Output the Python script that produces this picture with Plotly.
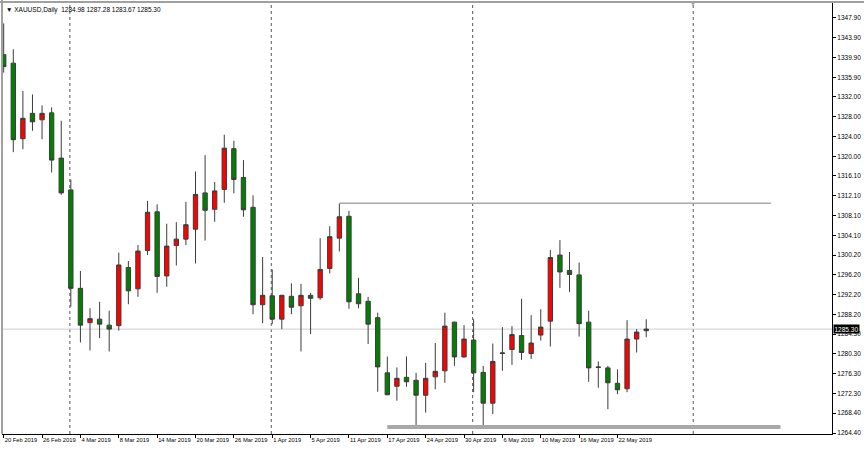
import plotly.graph_objects as go
import pandas as pd

# ---------------- data ----------------
dates = [
    "2019-02-20", "2019-02-21", "2019-02-22", "2019-02-25", "2019-02-26", "2019-02-27", "2019-02-28",
    "2019-03-01", "2019-03-04", "2019-03-05", "2019-03-06", "2019-03-07", "2019-03-08", "2019-03-11",
    "2019-03-12", "2019-03-13", "2019-03-14", "2019-03-15", "2019-03-18", "2019-03-19", "2019-03-20",
    "2019-03-21", "2019-03-22", "2019-03-25", "2019-03-26", "2019-03-27", "2019-03-28", "2019-03-29",
    "2019-04-01", "2019-04-02", "2019-04-03", "2019-04-04", "2019-04-05", "2019-04-08", "2019-04-09",
    "2019-04-10", "2019-04-11", "2019-04-12", "2019-04-15", "2019-04-16", "2019-04-17", "2019-04-18",
    "2019-04-22", "2019-04-23", "2019-04-24", "2019-04-25", "2019-04-26", "2019-04-29", "2019-04-30",
    "2019-05-01", "2019-05-02", "2019-05-03", "2019-05-06", "2019-05-07", "2019-05-08", "2019-05-09",
    "2019-05-10", "2019-05-13", "2019-05-14", "2019-05-15", "2019-05-16", "2019-05-17", "2019-05-20",
    "2019-05-21", "2019-05-22", "2019-05-23", "2019-05-24", "2019-05-27",
]
opens = [
    1340.5, 1338.8, 1323.6, 1328.7, 1327.4, 1328.8, 1319.7, 1313.3, 1293.5, 1286.6,
    1287.3, 1286.1, 1286.0, 1297.7, 1293.4, 1301.1, 1308.9, 1296.0, 1302.1, 1303.4,
    1305.4, 1312.7, 1309.4, 1313.4, 1321.6, 1315.8, 1309.8, 1290.2, 1292.0, 1287.3,
    1291.9, 1290.0, 1292.1, 1291.6, 1297.5, 1303.6, 1308.0, 1292.4, 1290.9, 1287.6,
    1276.5, 1273.8, 1275.6, 1275.0, 1272.0, 1275.7, 1276.9, 1286.7, 1279.7, 1283.1,
    1276.6, 1270.4, 1280.4, 1281.2, 1284.0, 1280.4, 1284.1, 1286.9, 1300.2, 1297.1,
    1296.2, 1286.7, 1277.7, 1277.5, 1274.4, 1273.3, 1283.3, 1284.98,
]
highs = [
    1346.8, 1341.6, 1333.2, 1332.5, 1330.3, 1329.9, 1327.2, 1315.4, 1297.0, 1289.5,
    1290.8, 1289.0, 1300.7, 1299.0, 1302.2, 1311.1, 1310.4, 1306.5, 1306.8, 1310.9,
    1317.0, 1320.3, 1314.9, 1324.4, 1323.2, 1319.3, 1312.2, 1299.8, 1297.3, 1292.2,
    1294.5, 1294.4, 1292.6, 1303.6, 1306.0, 1310.6, 1309.1, 1295.6, 1291.8, 1288.6,
    1279.8, 1277.6, 1279.8, 1276.5, 1278.5, 1282.5, 1288.6, 1286.8, 1286.1, 1287.3,
    1277.9, 1282.4, 1285.7, 1285.9, 1291.4, 1288.1, 1289.3, 1301.2, 1303.2, 1300.8,
    1298.7, 1289.0, 1278.8, 1277.9, 1277.2, 1287.1, 1285.3, 1287.28,
]
lows = [
    1336.9, 1320.9, 1321.5, 1325.2, 1323.5, 1316.8, 1312.3, 1289.8, 1282.6, 1281.0,
    1283.5, 1280.8, 1285.0, 1290.3, 1291.8, 1300.2, 1292.6, 1293.8, 1298.1, 1302.2,
    1298.5, 1303.1, 1306.9, 1310.7, 1312.6, 1307.9, 1288.3, 1286.5, 1286.3, 1285.3,
    1288.3, 1280.8, 1284.3, 1291.2, 1296.5, 1300.9, 1289.4, 1289.5, 1282.3, 1272.7,
    1272.0, 1270.9, 1273.7, 1266.0, 1268.5, 1273.2, 1274.5, 1277.9, 1279.6, 1272.6,
    1266.0, 1268.2, 1276.9, 1278.1, 1279.1, 1279.3, 1283.0, 1281.8, 1293.6, 1292.8,
    1283.8, 1274.7, 1273.5, 1269.2, 1272.2, 1272.6, 1280.6, 1283.67,
]
closes = [
    1338.1, 1323.4, 1327.7, 1327.0, 1328.7, 1319.3, 1312.7, 1293.5, 1286.1, 1287.4,
    1286.3, 1285.3, 1298.2, 1293.0, 1301.0, 1308.8, 1295.9, 1302.0, 1303.4, 1306.3,
    1312.4, 1309.2, 1313.1, 1321.7, 1315.4, 1309.3, 1290.2, 1292.1, 1287.3, 1292.1,
    1289.7, 1292.1, 1291.5, 1297.3, 1303.9, 1307.9, 1290.8, 1290.4, 1286.3, 1277.7,
    1272.1, 1275.4, 1274.7, 1272.0, 1275.4, 1276.8, 1285.9, 1279.7, 1283.3, 1276.5,
    1270.4, 1278.8, 1280.5, 1284.2, 1280.6, 1282.5, 1285.7, 1299.7, 1296.8, 1296.3,
    1286.4, 1277.5, 1277.6, 1274.5, 1273.1, 1283.3, 1284.7, 1285.30,
]

date_ticks = [
    "20 Feb 2019", "26 Feb 2019", "4 Mar 2019", "8 Mar 2019", "14 Mar 2019", "20 Mar 2019",
    "26 Mar 2019", "1 Apr 2019", "5 Apr 2019", "11 Apr 2019", "17 Apr 2019", "24 Apr 2019",
    "30 Apr 2019", "6 May 2019", "10 May 2019", "16 May 2019", "22 May 2019",
]
price_ticks = [
    1347.90, 1343.90, 1339.90, 1335.90, 1332.00, 1328.00, 1324.00, 1320.00, 1316.10, 1312.10,
    1308.10, 1304.10, 1300.20, 1296.20, 1292.20, 1288.20, 1284.30, 1280.30, 1276.30, 1272.30,
    1268.40, 1264.40,
]

resistance_level = 1310.6
resistance_start = "2019-04-10"
support_level = 1265.6
support_start = "2019-04-17"
last_price = 1285.30
symbol_title = "▼ XAUUSD,Daily  1284.98 1287.28 1283.67 1285.30"

# ---------------- derived ----------------
bars = list(range(len(dates)))
dts = pd.to_datetime(dates)
tick_pos = bars[::4][:len(date_ticks)]

# month separators (first bar of each month), including next future month
future = pd.bdate_range(dts[-1] + pd.Timedelta(days=1), periods=20)
all_dts = list(dts) + list(future)
month_sep = [i for i in range(1, len(all_dts)) if all_dts[i].month != all_dts[i - 1].month]
month_sep = [m for m in month_sep if m < 80]

res_x0 = dates.index(resistance_start)
sup_x0 = dates.index(support_start)

FONT = "Liberation Sans, Arial, sans-serif"

fig = go.Figure()
fig.add_trace(go.Candlestick(
    x=bars, open=opens, high=highs, low=lows, close=closes,
    increasing=dict(fillcolor="#ff0000", line=dict(color="#3c3c3c", width=1)),
    decreasing=dict(fillcolor="#008000", line=dict(color="#3c3c3c", width=1)),
    whiskerwidth=0, hoverinfo="skip", showlegend=False,
))

shapes = []
for m in month_sep:
    shapes.append(dict(type="line", xref="x", yref="paper", x0=m - 0.1, x1=m - 0.1, y0=0, y1=1,
                       line=dict(color="#555555", width=1, dash="dot"), layer="below"))
# last price line
shapes.append(dict(type="line", xref="paper", yref="y", x0=0, x1=1, y0=last_price, y1=last_price,
                   line=dict(color="#cfcfcf", width=1), layer="below"))
# resistance line
shapes.append(dict(type="line", xref="x", yref="y", x0=res_x0, x1=res_x0 + 45,
                   y0=resistance_level, y1=resistance_level,
                   line=dict(color="#a8a8a8", width=1.5)))
# support line
shapes.append(dict(type="line", xref="x", yref="y", x0=sup_x0, x1=sup_x0 + 41,
                   y0=support_level, y1=support_level,
                   line=dict(color="#a8a8a8", width=4)))
# outer frame top / left
shapes.append(dict(type="line", xref="paper", yref="paper", x0=-0.01, x1=1.05, y0=1.0, y1=1.0,
                   line=dict(color="#a0a0a0", width=2)))
shapes.append(dict(type="line", xref="paper", yref="paper", x0=0, x1=0, y0=0, y1=1.01,
                   line=dict(color="#a0a0a0", width=2)))

annotations = [
    dict(xref="paper", yref="paper", x=0, y=1, xanchor="left", yanchor="top",
         xshift=2, yshift=-2, text=symbol_title, showarrow=False,
         font=dict(family=FONT, size=6.5, color="#000000")),
    dict(xref="paper", yref="y", x=1, y=last_price, xanchor="left", yanchor="middle",
         xshift=1, text=f"{last_price:.2f}", showarrow=False, bgcolor="#000000",
         borderpad=0.5, font=dict(family=FONT, size=6.5, color="#ffffff")),
]
if month_sep:
    annotations.append(dict(xref="x", yref="paper", x=month_sep[-1] - 0.1, y=1, yanchor="top",
                            text="▼", showarrow=False, yshift=3,
                            font=dict(family=FONT, size=6, color="#a0a0a0")))

fig.update_layout(
    width=864, height=449,
    template="none",
    paper_bgcolor="#ffffff", plot_bgcolor="#ffffff",
    margin=dict(l=2, r=32, t=2, b=15, autoexpand=False),
    showlegend=False,
    shapes=shapes, annotations=annotations,
    boxgap=0.35,
    xaxis=dict(
        range=[-0.177, 86.37], rangeslider=dict(visible=False),
        tickmode="array", tickvals=tick_pos, ticktext=date_ticks,
        ticks="outside", ticklen=3, tickcolor="#000000", tickwidth=1,
        ticklabelposition="outside right", tickangle=0,
        showgrid=False, zeroline=False, showline=True, linecolor="#000000", linewidth=1,
        tickfont=dict(family=FONT, size=5.8, color="#000000"), automargin=False,
    ),
    yaxis=dict(
        side="right", range=[1264.2, 1351.1],
        tickmode="array", tickvals=price_ticks, ticktext=[f"{v:.2f}" for v in price_ticks],
        ticks="outside", ticklen=3, tickcolor="#000000", tickwidth=1,
        showgrid=False, zeroline=False, showline=True, linecolor="#000000", linewidth=1,
        tickfont=dict(family=FONT, size=6.5, color="#000000"), automargin=False,
    ),
)

fig.write_html(
    "out.html",
    config={"displayModeBar": False},
    post_script="document.body.style.margin='0';document.body.style.padding='0';"
                "document.body.style.overflow='hidden';",
)
